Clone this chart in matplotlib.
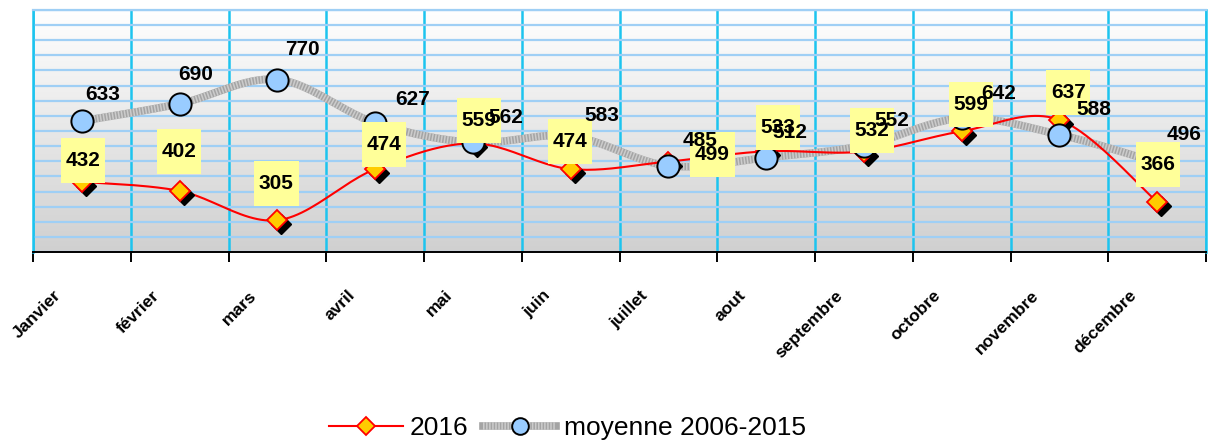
import numpy as np
import matplotlib
matplotlib.use("Agg")
import matplotlib.pyplot as plt
from matplotlib.colors import LinearSegmentedColormap
from matplotlib.lines import Line2D
from matplotlib.path import Path
from matplotlib.transforms import ScaledTranslation, blended_transform_factory

plt.rcParams['font.family'] = ['Liberation Sans', 'DejaVu Sans']

# donnees
mois = ['Janvier', 'février', 'mars', 'avril', 'mai', 'juin', 'juillet',
        'aout', 'septembre', 'octobre', 'novembre', 'décembre']
val_2016 = [432, 402, 305, 474, 559, 474, 499, 533, 532, 599, 637, 366]
val_moy = [633, 690, 770, 627, 562, 583, 485, 512, 552, 642, 588, 496]

# decalage des etiquettes (pixels, placees a la main comme dans l'original)
dec_2016 = [(1, 21), (-1, 39), (-1, 37), (9, 25), (6, 23), (-1, 28),
            (44, 7), (12, 24), (8, 21), (9, 27), (9, 27), (1, 37)]
dec_moy = [(21, 27), (16, 29), (25, 30), (37, 23), (33, 25), (31, 21),
           (32, 25), (24, 25), (28, 25), (37, 25), (34, 25), (27, 28)]


def lisse(x, y, n=24):
    # courbe de Catmull-Rom passant par les points
    p = np.column_stack([x, y]).astype(float)
    p = np.vstack([p[0], p, p[-1]])
    t = np.linspace(0, 1, n, endpoint=False)[:, None]
    seg = []
    for i in range(1, len(p) - 2):
        p0, p1, p2, p3 = p[i-1], p[i], p[i+1], p[i+2]
        c = 0.5 * (2*p1 + (-p0 + p2)*t + (2*p0 - 5*p1 + 4*p2 - p3)*t**2
                   + (-p0 + 3*p1 - 3*p2 + p3)*t**3)
        seg.append(c)
    seg.append(p[-2][None, :])
    c = np.vstack(seg)
    return c[:, 0], c[:, 1]


def boite_jaune(x0, y0, width, height, mutation_size):
    cx = x0 + width/2.
    cy = y0 + height/2.
    w = width + 0.45*mutation_size
    h = 2.15*mutation_size
    return Path([(cx-w/2, cy-h/2), (cx+w/2, cy-h/2), (cx+w/2, cy+h/2),
                 (cx-w/2, cy+h/2), (cx-w/2, cy-h/2)], closed=True)


fig = plt.figure(figsize=(12.12, 4.48), dpi=100)
ax = fig.add_axes([33/1212., 196/448., 1173/1212., 242/448.])

x = np.arange(len(mois)) + 0.5
ax.set_xlim(0, 12)
ax.set_ylim(200, 1000)

# fond degrade
fond = LinearSegmentedColormap.from_list('fond', ['#d0d0d0', '#ffffff'])
ax.imshow(np.linspace(1, 0, 256).reshape(-1, 1), extent=(0, 12, 200, 1000),
          aspect='auto', cmap=fond, zorder=0)

# grilles
ax.set_axisbelow(True)
ax.set_yticks(np.arange(200, 1001, 50))
ax.grid(axis='y', color='#9fcff5', lw=1.6)
ax.set_xticks(np.arange(13))
ax.grid(axis='x', color='#1cc4ef', lw=1.8)
ax.tick_params(axis='y', left=False, labelleft=False)
ax.tick_params(axis='x', which='major', direction='out', length=7.5,
               width=1.4, color='black', labelbottom=False)
for s in ['left', 'right']:
    ax.spines[s].set_color('#1cc4ef')
    ax.spines[s].set_linewidth(1.8)
ax.spines['top'].set_color('#9fcff5')
ax.spines['top'].set_linewidth(1.6)
ax.spines['bottom'].set_color('black')
ax.spines['bottom'].set_linewidth(1.4)

# etiquettes des mois
tr = blended_transform_factory(ax.transData, ax.transAxes) + \
    ScaledTranslation(-23/100., -41/100., fig.dpi_scale_trans)
for xi, m in zip(x, mois):
    ax.text(xi, 0, m, transform=tr, rotation=45, rotation_mode='anchor',
            ha='right', va='center', fontsize=12.5, fontweight='bold')

# moyenne 2006-2015 : ligne grise texturee
xs, ys = lisse(x, val_moy)
ax.plot(xs, ys, color='#a4a4a4', lw=5.5, solid_capstyle='butt', zorder=2)
ax.plot(xs, ys, color='#cccccc', lw=5.5, ls=(0, (0.2, 0.2)), zorder=2.1)

# 2016 : ligne rouge
xs, ys = lisse(x, val_2016)
ax.plot(xs, ys, color='red', lw=1.5, zorder=3)
ombre = ax.transData + ScaledTranslation(4/100., -4/100., fig.dpi_scale_trans)
ax.plot(x, val_2016, ls='none', marker='D', ms=10, mfc='black', mec='black',
        transform=ombre, zorder=3.5)
ax.plot(x, val_2016, ls='none', marker='D', ms=10, mfc='#ffcc00', mec='red',
        mew=1.3, zorder=4)
ax.plot(x, val_moy, ls='none', marker='o', ms=16, mfc='#99ccff',
        mec='black', mew=1.4, zorder=4.5)

# etiquettes de valeurs
for xi, v, d in zip(x, val_2016, dec_2016):
    ax.annotate(str(v), (xi, v), xytext=d, textcoords='offset pixels',
                ha='center', va='center', fontsize=15, fontweight='bold',
                bbox=dict(boxstyle=boite_jaune, fc='#ffff99', ec='none'),
                zorder=5, annotation_clip=False)
for xi, v, d in zip(x, val_moy, dec_moy):
    ax.annotate(str(v), (xi, v), xytext=d, textcoords='offset pixels',
                ha='center', va='center', fontsize=15, fontweight='bold',
                zorder=6, annotation_clip=False)

# legende
h1 = Line2D([], [], color='red', lw=1.5, marker='D', ms=9, mfc='#ffcc00',
            mec='red', mew=1.3)
h2a = Line2D([], [], color='#a4a4a4', lw=5.5)
h2b = Line2D([], [], color='#cccccc', lw=5.5, ls=(0, (0.2, 0.2)))
h2c = Line2D([], [], ls='none', marker='o', ms=12, mfc='#99ccff',
             mec='black', mew=1.4)
fig.legend([h1, (h2a, h2b, h2c)], ['2016', 'moyenne 2006-2015'],
           loc='center', bbox_to_anchor=(567.5/1212., 1 - 428/448.),
           ncol=2, frameon=False, prop=dict(size=19),
           handlelength=2.77, handletextpad=0.27, columnspacing=0.57)

fig.savefig('out.png', dpi=100)
